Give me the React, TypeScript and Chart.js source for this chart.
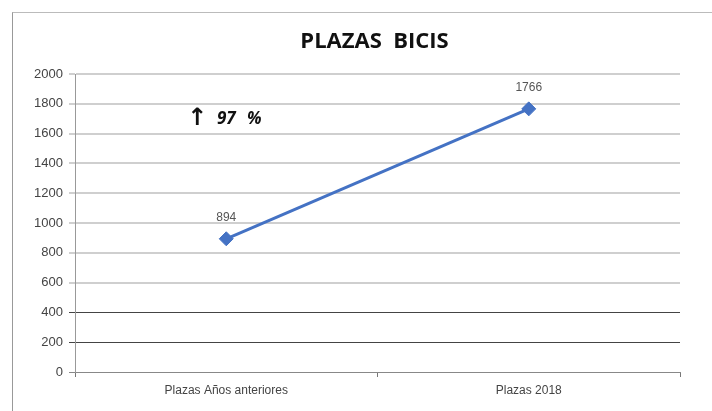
import React, { useEffect, useRef } from "react";
import { Chart, registerables } from "chart.js";

Chart.register(...registerables);

const categories = ["Plazas Años anteriores", "Plazas 2018"];
const plazas = [894, 1766];
const yTicks = [0, 200, 400, 600, 800, 1000, 1200, 1400, 1600, 1800, 2000];
const titleText = "PLAZAS  BICIS";
const changeArrow = "↑";
const changeValue = "97";
const changeUnit = "%";

const overlayPlugin = {
  id: "overlay",
  afterDatasetsDraw(chart: any) {
    const ctx = chart.ctx;
    const meta = chart.getDatasetMeta(0);
    const area = chart.chartArea;
    ctx.save();
    // title
    ctx.fillStyle = "#111";
    ctx.font = "bold 22px 'Open Sans', sans-serif";
    ctx.textAlign = "center";
    ctx.textBaseline = "middle";
    ctx.fillText(titleText, (area.left + area.right) / 2 - 3, area.top - 32);
    // data labels
    ctx.fillStyle = "#555";
    ctx.font = "12px 'Liberation Sans', Arial, sans-serif";
    meta.data.forEach((pt: any, i: number) => {
      ctx.fillText(String(plazas[i]), pt.x, pt.y - 21);
    });
    // annotation
    const yScale = chart.scales.y;
    const ay = yScale.getPixelForValue(1700);
    const ax = area.left + 113;
    ctx.fillStyle = "#111";
    ctx.textAlign = "left";
    ctx.font = "bold 24px 'DejaVu Sans', sans-serif";
    ctx.fillText(changeArrow, ax - 1, ay);
    ctx.font = "italic bold 17px 'Open Sans', sans-serif";
    ctx.fillText(changeValue, ax + 29, ay);
    ctx.fillText(changeUnit, ax + 59, ay);
    ctx.restore();
  },
};

export default function App() {
  const ref = useRef<HTMLCanvasElement | null>(null);
  useEffect(() => {
    document.body.style.margin = "0";
    const chart = new Chart(ref.current as HTMLCanvasElement, {
      type: "line",
      data: {
        labels: categories,
        datasets: [
          {
            data: plazas,
            borderColor: "#4472C4",
            backgroundColor: "#4472C4",
            borderWidth: 3,
            pointStyle: "rectRot",
            pointRadius: 7,
            pointBorderWidth: 1,
            pointBackgroundColor: "#4472C4",
            pointBorderColor: "#4472C4",
          },
        ],
      },
      options: {
        animation: false,
        responsive: false,
        maintainAspectRatio: false,
        layout: { padding: { left: 13, right: 32, top: 74, bottom: 0 } },
        plugins: {
          legend: { display: false },
          tooltip: { enabled: false },
          title: { display: false },
        },
        scales: {
          x: {
            offset: true,
            grid: {
              display: true,
              drawOnChartArea: false,
              drawTicks: true,
              tickLength: 5,
              offset: true,
              color: "#777",
            },
            border: { display: true, color: "#888", width: 1 },
            ticks: {
              color: "#444",
              padding: 6,
              font: { family: "'Liberation Sans', Arial, sans-serif", size: 12 },
            },
            afterFit(scale: any) {
              scale.height = 39;
            },
          },
          y: {
            min: 0,
            max: 2000,
            afterBuildTicks(scale: any) {
              scale.ticks = yTicks.map((v) => ({ value: v }));
            },
            grid: {
              drawTicks: true,
              tickLength: 6,
              color: (c: any) =>
                c.tick && c.tick.value > 0 && c.tick.value <= 400
                  ? "#444"
                  : c.tick && c.tick.value === 0
                  ? "#888"
                  : "#cfcfcf",
              lineWidth: (c: any) => (c.tick && c.tick.value > 400 ? 2 : 1),
            },
            border: { display: true, color: "#999", width: 1 },
            ticks: {
              color: "#444",
              padding: 6,
              font: { family: "'Liberation Sans', Arial, sans-serif", size: 13 },
              callback: (v: any) => String(v),
            },
            afterFit(scale: any) {
              scale.width = 62;
            },
          },
        },
      },
      plugins: [overlayPlugin],
    } as any);
    return () => chart.destroy();
  }, []);
  return (
    <div style={{ position: "relative", width: 712, height: 411, background: "#fff" }}>
      <canvas ref={ref} width={712} height={411} style={{ display: "block" }} />
      <div
        style={{
          position: "absolute",
          left: 12,
          top: 12,
          width: 700,
          height: 399,
          borderLeft: "1px solid #999",
          borderTop: "1px solid #bbb",
          pointerEvents: "none",
        }}
      />
    </div>
  );
}
